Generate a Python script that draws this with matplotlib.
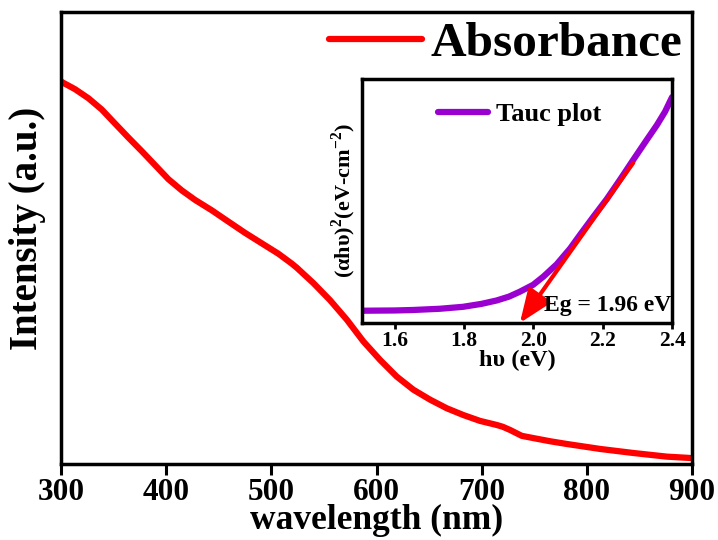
import matplotlib
matplotlib.use("Agg")
import matplotlib.pyplot as plt

plt.rcParams['font.family'] = ['Liberation Serif', 'DejaVu Serif']
plt.rcParams['font.weight'] = 'bold'
plt.rcParams['mathtext.fontset'] = 'custom'
plt.rcParams['mathtext.rm'] = 'Liberation Serif:bold'
plt.rcParams['mathtext.bf'] = 'Liberation Serif:bold'

# Absorbance spectrum (normalized)
wavelength = [300, 302.2, 313.3, 326.0, 338.7, 351.3, 364.0, 376.7, 389.4, 402.0, 414.8,
              427.4, 443.3, 459.1, 475.0, 490.8, 506.6, 519.4, 524.1, 539.9, 555.8,
              571.7, 587.4, 603.3, 619.2, 635.0, 650.9, 666.7, 682.5, 698.4, 714.3,
              720.0, 726.9, 738.0, 749.1, 765.0, 780.8, 812.5, 844.2, 875.9, 898.1]
absorbance = [0.846, 0.843, 0.829, 0.809, 0.784, 0.753, 0.722, 0.692, 0.661, 0.630, 0.605,
              0.584, 0.561, 0.536, 0.511, 0.488, 0.465, 0.443, 0.434, 0.400, 0.362,
              0.319, 0.271, 0.230, 0.193, 0.164, 0.142, 0.123, 0.108, 0.095, 0.086,
              0.082, 0.075, 0.062, 0.057, 0.050, 0.044, 0.033, 0.024, 0.016, 0.013]

# Tauc plot (normalized)
hv = [1.508, 1.60, 1.653, 1.73, 1.797, 1.85, 1.894, 1.93, 1.961, 1.999, 2.029, 2.067,
      2.106, 2.135, 2.173, 2.212, 2.250, 2.288, 2.327, 2.356, 2.380, 2.40]
tauc = [0.050, 0.051, 0.053, 0.058, 0.066, 0.078, 0.092, 0.108, 0.128, 0.156, 0.190, 0.240,
        0.305, 0.362, 0.435, 0.508, 0.587, 0.668, 0.750, 0.810, 0.866, 0.925]

# Tangent fit
fit_x = [2.288, 1.961]
fit_y = [0.656, 0.0]
eg_label = "Eg = 1.96 eV"

main_xticks = [300, 400, 500, 600, 700, 800, 900]
inset_xticks = [1.6, 1.8, 2.0, 2.2, 2.4]

fig = plt.figure(figsize=(7.18, 5.40), dpi=100)
ax = fig.add_axes([0.085, 0.141, 0.879, 0.837])
ax.plot(wavelength, absorbance, color='#ff0000', lw=4.5, label='Absorbance',
        solid_capstyle='round', solid_joinstyle='round')
ax.set_xlim(300, 900)
ax.set_ylim(0, 1)
ax.set_xticks(main_xticks)
ax.set_yticks([])
ax.tick_params(axis='x', direction='out', length=8, width=2.2, labelsize=22.5, pad=2)
for lab in ax.get_xticklabels():
    lab.set_fontweight('bold')
for s in ax.spines.values():
    s.set_linewidth(2.5)
ax.set_xlabel('wavelength (nm)', fontsize=25.5, fontweight='bold', labelpad=-2)
ax.set_ylabel('Intensity (a.u.)', fontsize=28, fontweight='bold')
ax.yaxis.set_label_coords(-0.024, 0.522)
ax.legend(loc='upper right', frameon=False, handlelength=1.87,
          handletextpad=0.18, borderaxespad=0.0, borderpad=0.2,
          prop={'size': 35.5, 'weight': 'bold'})

ins = fig.add_axes([0.504, 0.402, 0.432, 0.452])
ins.plot(hv, tauc, color='#9a00d0', lw=4.5, label='Tauc plot',
         solid_capstyle='round', solid_joinstyle='round')
ins.annotate('', xy=(fit_x[1], fit_y[1]), xytext=(fit_x[0], fit_y[0]),
             arrowprops=dict(arrowstyle='-|>,head_length=2.0,head_width=0.8',
                             color='#ff0000', lw=3, shrinkA=0, shrinkB=0))
ins.set_xlim(1.505, 2.40)
ins.set_ylim(0, 1)
ins.set_xticks(inset_xticks)
ins.set_xticklabels(['1.6', '1.8', '2.0', '2.2', '2.4'])
ins.set_yticks([])
ins.tick_params(axis='x', direction='out', length=4, width=2, labelsize=15.5, pad=2)
for lab in ins.get_xticklabels():
    lab.set_fontweight('bold')
for s in ins.spines.values():
    s.set_linewidth(2.5)
ins.set_xlabel('h\u03c5 (eV)', fontsize=17.5, fontweight='bold', labelpad=-1)
ins.set_ylabel('(\u03b1h\u03c5)$^{2}$(eV-cm$^{-2}$)', fontsize=16, fontweight='bold',
               labelpad=3)
ins.text(0.998, 0.03, eg_label, transform=ins.transAxes, ha='right', va='bottom',
         fontsize=17, fontweight='bold')
ins.legend(loc='upper left', bbox_to_anchor=(0.168, 1.0), frameon=False,
           handlelength=1.9, handletextpad=0.3, prop={'size': 19, 'weight': 'bold'})

fig.savefig('out.png', dpi=100)
